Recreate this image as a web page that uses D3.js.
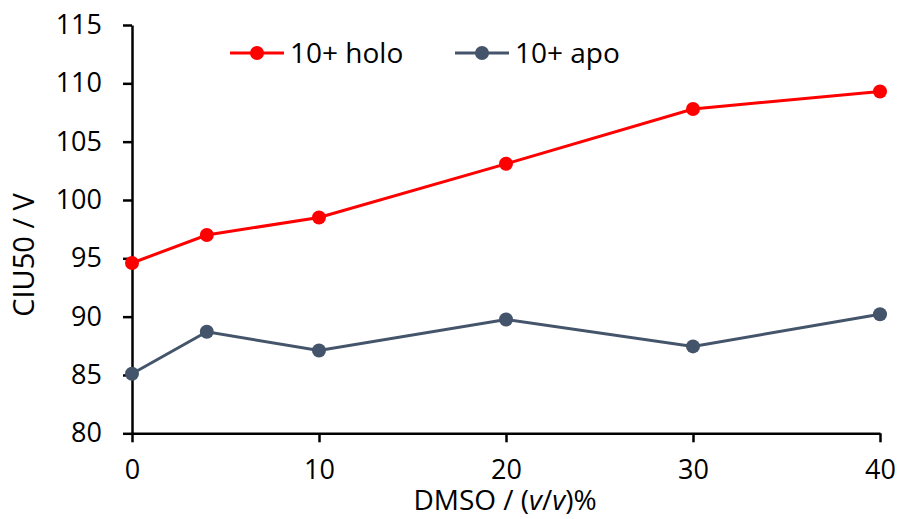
<!DOCTYPE html>
<html>
<head>
<meta charset="utf-8">
<script src="https://cdn.jsdelivr.net/npm/d3@7/dist/d3.min.js"></script>
<style>
  html, body { margin: 0; padding: 0; background: #fff; }
  svg { display: block; }
  text { font-family: "Open Sans", "Noto Sans", sans-serif; fill: #000; }
</style>
</head>
<body>
<svg id="chart" width="917" height="519"></svg>
<script>
// DMSO concentration (v/v %) and CIU50 values for each charge-state form
const dmso = [0, 4, 10, 20, 30, 40];
const holo = [94.6, 97.0, 98.5, 103.1, 107.8, 109.3];
const apo = [85.1, 88.7, 87.1, 89.75, 87.45, 90.2];
const seriesNames = ["10+ holo", "10+ apo"];
const seriesColors = ["#ff0000", "#44546a"];
const xTicks = [0, 10, 20, 30, 40];
const yTicks = [80, 85, 90, 95, 100, 105, 110, 115];

const svg = d3.select("#chart");
const x = d3.scaleLinear().domain([0, 40]).range([132, 880]);
const y = d3.scaleLinear().domain([80, 115]).range([433.3, 25]);

// Y axis
const yAxis = svg.append("g")
  .attr("transform", `translate(${x(0)},0)`)
  .call(d3.axisLeft(y).tickValues(yTicks).tickSize(9).tickPadding(21).tickSizeOuter(0));
// X axis
const xAxis = svg.append("g")
  .attr("transform", `translate(0,${y(80)})`)
  .call(d3.axisBottom(x).tickValues(xTicks).tickSize(9).tickPadding(18).tickSizeOuter(0));

[yAxis, xAxis].forEach(g => {
  g.select(".domain").attr("stroke", "#000").attr("stroke-width", 2.5);
  g.selectAll(".tick line").attr("stroke", "#000").attr("stroke-width", 2.5);
  g.selectAll(".tick text").attr("font-size", 27).attr("font-family", "'Open Sans', sans-serif").attr("fill", "#000");
});

// Axis titles
svg.append("text")
  .attr("transform", `translate(34,255) rotate(-90)`)
  .attr("text-anchor", "middle")
  .attr("font-size", 29)
  .text("CIU50 / V");

const xt = svg.append("text")
  .attr("x", 505).attr("y", 510)
  .attr("text-anchor", "middle")
  .attr("font-size", 28);
xt.append("tspan").text("DMSO / (");
xt.append("tspan").attr("font-style", "italic").text("v");
xt.append("tspan").text("/");
xt.append("tspan").attr("font-style", "italic").text("v");
xt.append("tspan").text(")%");

// Series lines and markers
const line = d3.line().x((d, i) => x(dmso[i])).y(d => y(d));
[holo, apo].forEach((vals, k) => {
  const g = svg.append("g");
  g.append("path")
    .attr("d", line(vals))
    .attr("fill", "none")
    .attr("stroke", seriesColors[k])
    .attr("stroke-width", 3);
  g.selectAll("circle").data(vals).join("circle")
    .attr("cx", (d, i) => x(dmso[i]))
    .attr("cy", d => y(d))
    .attr("r", 7)
    .attr("fill", seriesColors[k]);
});

// Legend
const legendX = [230, 455];
seriesNames.forEach((name, k) => {
  const g = svg.append("g").attr("transform", `translate(${legendX[k]},53)`);
  g.append("line").attr("x1", 0).attr("x2", 54).attr("y1", 0).attr("y2", 0)
    .attr("stroke", seriesColors[k]).attr("stroke-width", 3);
  g.append("circle").attr("cx", 27).attr("cy", 0).attr("r", 7).attr("fill", seriesColors[k]);
  g.append("text").attr("x", 60).attr("y", 0).attr("dy", "0.35em")
    .attr("font-size", 28).text(name);
});
</script>
</body>
</html>
